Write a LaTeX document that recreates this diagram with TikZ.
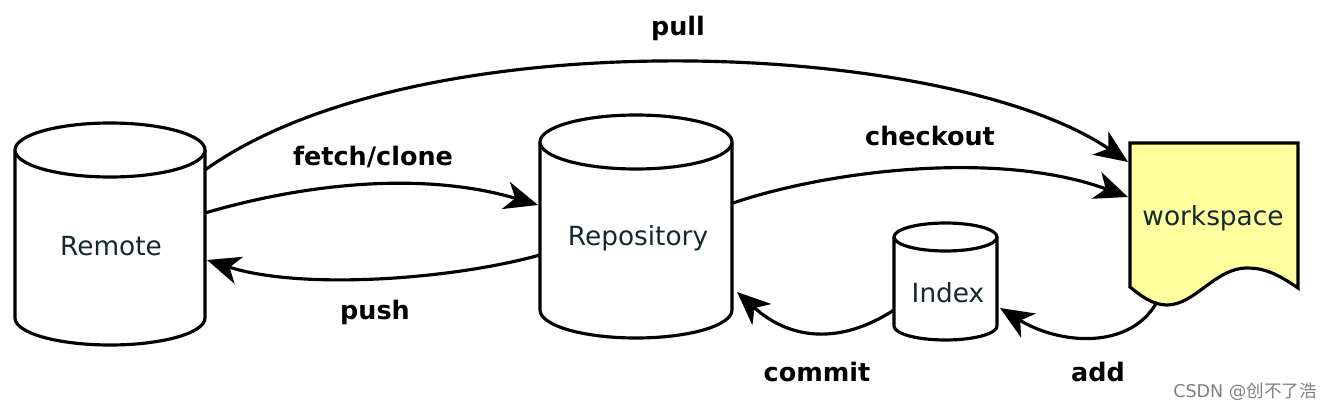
\documentclass[tikz,border=0pt]{standalone}
\usepackage{fontspec}
\setmainfont{DejaVu Sans}
\newfontfamily\cjk{Noto Sans CJK SC}
\usetikzlibrary{arrows.meta}
\definecolor{txt}{RGB}{22,40,46}
\definecolor{wsyellow}{RGB}{255,255,160}
\tikzset{
  shp/.style={line width=1.8pt, draw=black, fill=white},
  conn/.style={line width=1.8pt, -{Stealth[length=19pt,width=16pt,inset=5.5pt]}},
  lbl/.style={font=\fontsize{14.5}{17}\selectfont\bfseries, text=black, inner sep=0pt},
  nlbl/.style={font=\fontsize{15}{18}\selectfont, text=txt, inner sep=0pt},
}
\begin{document}
\begin{tikzpicture}[x=0.02cm,y=0.02cm]
\useasboundingbox (0,0) rectangle (1328,410);
% Remote cylinder
\draw[shp] (15,260) -- (15,92) arc[start angle=180,end angle=360,x radius=95,y radius=27] -- (205,260);
\draw[shp] (110,260) ellipse[x radius=95,y radius=27];
\node[nlbl] (remote) at (111,164) {Remote};
% Repository cylinder
\draw[shp] (540,268) -- (540,100) arc[start angle=180,end angle=360,x radius=96,y radius=28] -- (732,268);
\draw[shp] (636,268) ellipse[x radius=96,y radius=27];
\node[nlbl] (repo) at (638,172) {Repository};
% Index cylinder
\draw[shp] (894,173) -- (894,84) arc[start angle=180,end angle=360,x radius=51.5,y radius=14] -- (997,173);
\draw[shp] (945.5,173) ellipse[x radius=51.5,y radius=14];
\node[nlbl] (index) at (948,117) {Index};
% Workspace
\draw[shp,fill=wsyellow] (1130,267) -- (1298,267) -- (1298,122)
  .. controls (1275,138) and (1262,142) .. (1247,142)
  .. controls (1215,142) and (1195,105) .. (1167,105)
  .. controls (1152,105) and (1140,115) .. (1130,123) -- cycle;
\node[nlbl] (ws) at (1213,192) {workspace};
% ports
\coordinate (rmA) at (205,240);
\coordinate (rmB) at (205,197);
\coordinate (rmC) at (207,150);
\coordinate (rpA) at (538,205);
\coordinate (rpB) at (540,155);
\coordinate (rpC) at (733,207);
\coordinate (rpD) at (737,118);
\coordinate (wsA) at (1128,248);
\coordinate (wsB) at (1128,213);
\coordinate (wsC) at (1157,108);
\coordinate (ixA) at (894,100);
\coordinate (ixB) at (1000,102);
% connectors
\draw[conn] (rmA) .. controls (420,394) and (950,370) .. (wsA);
\draw[conn] (rmB) .. controls (300,225) and (420,240) .. (rpA);
\draw[conn] (rpB) .. controls (450,130) and (300,120) .. (rmC);
\draw[conn] (rpC) .. controls (830,240) and (1000,260) .. (wsB);
\draw[conn] (ixA) .. controls (840,65) and (790,70) .. (rpD);
\draw[conn] (wsC) .. controls (1130,60) and (1060,65) .. (ixB);
% labels
\node[lbl] (lpull) at (678,382) {pull};
\node[lbl] (lfetch) at (373,253) {fetch/clone};
\node[lbl] (lcheck) at (930,274) {checkout};
\node[lbl] (lpush) at (375,98) {push};
\node[lbl] (lcommit) at (817,38) {commit};
\node[lbl] (ladd) at (1098,38) {add};
\node[font=\fontsize{10}{12}\selectfont, text=gray, inner sep=0pt] (wm) at (1245,18) {CSDN @{\cjk 创不了浩}};
\end{tikzpicture}
\end{document}
